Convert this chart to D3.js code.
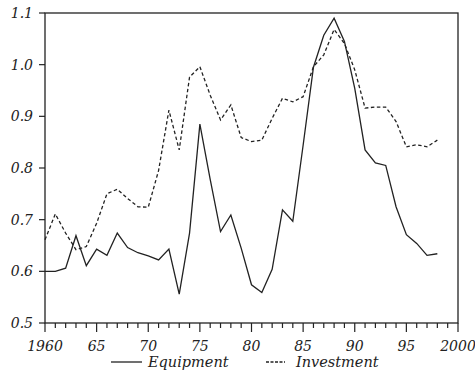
<!DOCTYPE html>
<html lang="en">
<head>
<meta charset="utf-8">
<title>Equipment and Investment</title>
<script src="https://d3js.org/d3.v7.min.js"></script>
<style>
  body { margin: 0; background: #fff; }
</style>
</head>
<body>
<div id="chart"></div>
<script>
// data, one value per year 1960..1998
var years = d3.range(1960, 1999);
var equipment = [0.600, 0.600, 0.606, 0.669, 0.611, 0.643, 0.631, 0.674, 0.646, 0.636,
                 0.630, 0.622, 0.643, 0.556, 0.674, 0.885, 0.778, 0.677, 0.709, 0.645,
                 0.574, 0.559, 0.604, 0.719, 0.697, 0.844, 0.995, 1.057, 1.090, 1.045,
                 0.954, 0.835, 0.810, 0.805, 0.725, 0.671, 0.654, 0.631, 0.634];
var investment = [0.661, 0.711, 0.674, 0.642, 0.648, 0.693, 0.750, 0.759, 0.741, 0.725,
                  0.724, 0.795, 0.912, 0.835, 0.976, 0.996, 0.941, 0.893, 0.922, 0.859,
                  0.851, 0.854, 0.896, 0.935, 0.928, 0.938, 0.996, 1.019, 1.068, 1.041,
                  0.990, 0.916, 0.918, 0.918, 0.890, 0.841, 0.845, 0.841, 0.854];
var yTicks = [0.5, 0.6, 0.7, 0.8, 0.9, 1.0, 1.1];
var xMajor = [1960, 1965, 1970, 1975, 1980, 1985, 1990, 1995, 2000];
var xLabels = ["1960", "65", "70", "75", "80", "85", "90", "95", "2000"];
var seriesNames = ["Equipment", "Investment"];

var FONT = "'DejaVu Serif', 'Liberation Serif', serif";
var W = 475, H = 384;
var margin = {top: 13, right: 17, bottom: 61, left: 45};
var width = W - margin.left - margin.right,
    height = H - margin.top - margin.bottom;

var svg = d3.select("#chart").append("svg")
    .attr("width", W).attr("height", H)
    .attr("font-family", FONT)
    .attr("font-style", "italic");
var g = svg.append("g")
    .attr("transform", "translate(" + margin.left + "," + margin.top + ")");

var x = d3.scaleLinear().domain([1960, 2000]).range([0, width]);
var y = d3.scaleLinear().domain([0.5, 1.1]).range([height, 0]);

// frame
g.append("rect")
  .attr("x", 0).attr("y", 0)
  .attr("width", width).attr("height", height)
  .attr("fill", "none").attr("stroke", "#222").attr("stroke-width", 1.3);

// y axis ticks + labels
g.selectAll(".ytick").data(yTicks).enter().append("line")
  .attr("x1", -6).attr("x2", 0)
  .attr("y1", function(d) { return y(d); }).attr("y2", function(d) { return y(d); })
  .attr("stroke", "#222").attr("stroke-width", 1.2);
g.selectAll(".ylab").data(yTicks).enter().append("text")
  .attr("x", -12).attr("y", function(d) { return y(d); })
  .attr("dy", "0.36em").attr("text-anchor", "end")
  .attr("font-size", 14).attr("fill", "#222")
  .text(function(d) { return d3.format(".1f")(d); });

// x axis ticks: every year small, every 5 years long
g.selectAll(".xtick").data(d3.range(1960, 2001)).enter().append("line")
  .attr("x1", function(d) { return x(d); }).attr("x2", function(d) { return x(d); })
  .attr("y1", height)
  .attr("y2", function(d) { return height + (d % 5 === 0 ? 9 : 5); })
  .attr("stroke", "#222").attr("stroke-width", 1.2);
g.selectAll(".xlab").data(xMajor).enter().append("text")
  .attr("x", function(d) { return x(d); }).attr("y", height + 28)
  .attr("text-anchor", "middle")
  .attr("font-size", 14).attr("fill", "#222")
  .text(function(d, i) { return xLabels[i]; });

// lines
var line = d3.line()
  .x(function(d, i) { return x(years[i]); })
  .y(function(d) { return y(d); });

g.append("path").datum(investment)
  .attr("d", line).attr("fill", "none")
  .attr("stroke", "#222").attr("stroke-width", 1.3)
  .attr("stroke-dasharray", "3.5,2.5");
g.append("path").datum(equipment)
  .attr("d", line).attr("fill", "none")
  .attr("stroke", "#222").attr("stroke-width", 1.3);

// legend
var legend = svg.append("g").attr("transform", "translate(0,367)");
var lx = [111, 266], lw = [31, 19], tx = [148, 296];
legend.selectAll("line").data(seriesNames).enter().append("line")
  .attr("x1", function(d, i) { return lx[i]; })
  .attr("x2", function(d, i) { return lx[i] + lw[i]; })
  .attr("y1", -5).attr("y2", -5)
  .attr("stroke", "#222").attr("stroke-width", 1.3)
  .attr("stroke-dasharray", function(d, i) { return i === 0 ? null : "3,1.5"; });
legend.selectAll("text").data(seriesNames).enter().append("text")
  .attr("x", function(d, i) { return tx[i]; })
  .attr("y", 0)
  .attr("font-size", 14.5).attr("fill", "#222")
  .text(function(d) { return d; });
</script>
</body>
</html>
